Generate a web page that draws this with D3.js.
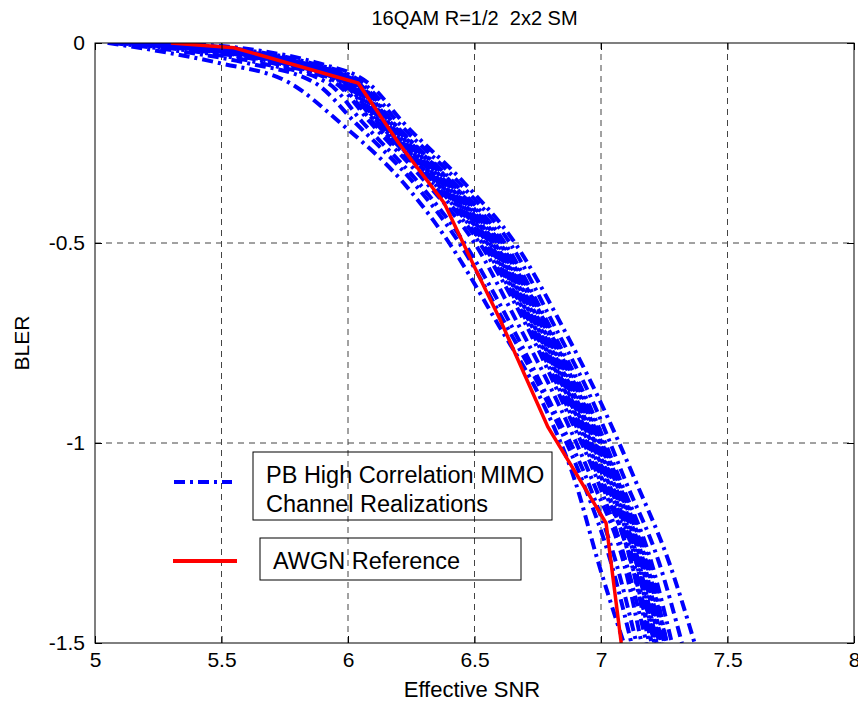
<!DOCTYPE html>
<html>
<head>
<meta charset="utf-8">
<script src="https://cdn.jsdelivr.net/npm/d3@7.9.0/dist/d3.min.js"></script>
<style>
  html, body { margin: 0; padding: 0; background: #fff; }
  svg { display: block; font-family: 'Liberation Sans', Arial, sans-serif; }
  .grid line { stroke: #444; stroke-dasharray: 6,5; stroke-width: 1; }
  .axis text { font-size: 21px; fill: #000; }
  .axis line { stroke: #000; }
</style>
</head>
<body>
<svg id="chart" width="858" height="702"></svg>
<script>
const blerLevels = [0, -0.02, -0.05, -0.1, -0.2, -0.35, -0.5, -0.7, -0.9, -1.1, -1.3, -1.5];

// effective SNR of each channel realization at those levels
const realizationSnr = [
  [5.05, 5.25, 5.49, 5.77, 5.97, 6.22, 6.40, 6.59, 6.77, 6.90, 6.99, 7.09],
  [5.07, 5.33, 5.60, 5.87, 6.03, 6.26, 6.44, 6.62, 6.79, 6.93, 7.04, 7.12],
  [5.09, 5.38, 5.65, 5.92, 6.06, 6.28, 6.46, 6.64, 6.80, 6.95, 7.06, 7.14],
  [5.12, 5.42, 5.70, 5.95, 6.09, 6.31, 6.50, 6.67, 6.83, 6.97, 7.09, 7.16],
  [5.13, 5.45, 5.72, 5.96, 6.10, 6.33, 6.52, 6.70, 6.85, 6.99, 7.10, 7.18],
  [5.15, 5.46, 5.74, 5.98, 6.12, 6.34, 6.53, 6.71, 6.86, 7.00, 7.12, 7.19],
  [5.16, 5.48, 5.74, 5.98, 6.11, 6.35, 6.54, 6.72, 6.87, 7.01, 7.13, 7.20],
  [5.17, 5.49, 5.75, 5.99, 6.12, 6.35, 6.55, 6.72, 6.88, 7.01, 7.12, 7.20],
  [5.18, 5.50, 5.76, 5.99, 6.13, 6.36, 6.55, 6.73, 6.88, 7.02, 7.14, 7.21],
  [5.19, 5.50, 5.77, 6.00, 6.13, 6.36, 6.56, 6.73, 6.89, 7.03, 7.15, 7.22],
  [5.20, 5.51, 5.77, 6.00, 6.14, 6.37, 6.56, 6.74, 6.89, 7.03, 7.14, 7.21],
  [5.21, 5.52, 5.78, 6.01, 6.14, 6.37, 6.57, 6.74, 6.90, 7.04, 7.15, 7.22],
  [5.22, 5.53, 5.79, 6.02, 6.15, 6.38, 6.58, 6.75, 6.91, 7.04, 7.16, 7.23],
  [5.22, 5.54, 5.79, 6.01, 6.15, 6.38, 6.57, 6.75, 6.90, 7.05, 7.17, 7.24],
  [5.23, 5.54, 5.80, 6.02, 6.16, 6.39, 6.58, 6.76, 6.91, 7.05, 7.16, 7.23],
  [5.24, 5.55, 5.80, 6.03, 6.16, 6.39, 6.59, 6.76, 6.92, 7.06, 7.17, 7.24],
  [5.25, 5.56, 5.81, 6.03, 6.17, 6.40, 6.60, 6.77, 6.93, 7.06, 7.18, 7.25],
  [5.25, 5.57, 5.82, 6.04, 6.17, 6.41, 6.60, 6.78, 6.93, 7.07, 7.18, 7.26],
  [5.26, 5.58, 5.82, 6.04, 6.18, 6.41, 6.61, 6.78, 6.94, 7.07, 7.19, 7.26],
  [5.27, 5.59, 5.83, 6.05, 6.18, 6.42, 6.62, 6.79, 6.95, 7.08, 7.20, 7.28],
  [5.28, 5.62, 5.85, 6.06, 6.20, 6.44, 6.64, 6.81, 6.97, 7.10, 7.23, 7.32],
  [5.30, 5.66, 5.88, 6.08, 6.22, 6.46, 6.66, 6.84, 7.00, 7.14, 7.27, 7.37]
];

// AWGN reference curve
const awgnSnr = [5.30, 5.55, 6.04, 6.20, 6.38, 6.50, 6.60, 6.79, 7.02, 7.08];
const awgnBler = [0, -0.012, -0.10, -0.25, -0.40, -0.56, -0.69, -0.96, -1.20, -1.50];

const xTicks = [5, 5.5, 6, 6.5, 7, 7.5, 8];
const yTicks = [0, -0.5, -1, -1.5];
const legendLabels = [['PB High Correlation MIMO', 'Channel Realizations'], ['AWGN Reference']];

const plotLeft = 95, plotRight = 854, plotTop = 43, plotBottom = 643;

const svg = d3.select('#chart');

const x = d3.scaleLinear().domain([5, 8]).range([plotLeft, plotRight]);
const y = d3.scaleLinear().domain([0, -1.5]).range([plotTop, plotBottom]);

svg.append('defs').append('clipPath').attr('id', 'plot-clip')
  .append('rect')
  .attr('x', plotLeft).attr('y', plotTop)
  .attr('width', plotRight - plotLeft).attr('height', plotBottom - plotTop);

// dashed grid
const grid = svg.append('g').attr('class', 'grid');
grid.selectAll('line.v')
  .data(xTicks.filter(d => d > 5 && d < 8))
  .join('line')
  .attr('class', 'v')
  .attr('x1', d => x(d)).attr('x2', d => x(d))
  .attr('y1', plotTop).attr('y2', plotBottom);
grid.selectAll('line.h')
  .data(yTicks.filter(d => d < 0 && d > -1.5))
  .join('line')
  .attr('class', 'h')
  .attr('x1', plotLeft).attr('x2', plotRight)
  .attr('y1', d => y(d)).attr('y2', d => y(d));

const plot = svg.append('g').attr('clip-path', 'url(#plot-clip)');

const blueLine = d3.line()
  .x(d => x(d[0]))
  .y(d => y(d[1]))
  .curve(d3.curveMonotoneX);

plot.selectAll('path.realization')
  .data(realizationSnr.map(row => row.map((s, i) => [s, blerLevels[i]])))
  .join('path')
  .attr('class', 'realization')
  .attr('d', blueLine)
  .attr('fill', 'none')
  .attr('stroke', '#0000ff')
  .attr('stroke-width', 4)
  .attr('stroke-dasharray', '11,5,3,5');

const redLine = d3.line()
  .x(d => x(d[0]))
  .y(d => y(d[1]));

plot.append('path')
  .datum(awgnSnr.map((s, i) => [s, awgnBler[i]]))
  .attr('d', redLine)
  .attr('fill', 'none')
  .attr('stroke', '#ff0000')
  .attr('stroke-width', 3.5);

// axes, matlab style ticks pointing inward
const fmt = d => String(d);
svg.append('g').attr('class', 'axis')
  .attr('transform', `translate(0,${plotBottom})`)
  .call(d3.axisBottom(x).tickValues(xTicks).tickFormat(fmt).tickSize(-7).tickSizeOuter(0).tickPadding(9))
  .call(g => g.select('.domain').remove());
svg.append('g').attr('class', 'axis')
  .attr('transform', `translate(0,${plotTop})`)
  .call(d3.axisTop(x).tickValues(xTicks).tickFormat('').tickSize(-7).tickSizeOuter(0))
  .call(g => g.select('.domain').remove());
svg.append('g').attr('class', 'axis')
  .attr('transform', `translate(${plotLeft},0)`)
  .call(d3.axisLeft(y).tickValues(yTicks).tickFormat(fmt).tickSize(-7).tickSizeOuter(0).tickPadding(10))
  .call(g => g.select('.domain').remove());
svg.append('g').attr('class', 'axis')
  .attr('transform', `translate(${plotRight},0)`)
  .call(d3.axisRight(y).tickValues(yTicks).tickFormat('').tickSize(-7).tickSizeOuter(0))
  .call(g => g.select('.domain').remove());

svg.append('rect')
  .attr('x', plotLeft).attr('y', plotTop)
  .attr('width', plotRight - plotLeft).attr('height', plotBottom - plotTop)
  .attr('fill', 'none').attr('stroke', '#000').attr('stroke-width', 1);

// titles
svg.append('text')
  .attr('x', (plotLeft + plotRight) / 2).attr('y', 25)
  .attr('text-anchor', 'middle')
  .attr('font-size', 20)
  .text('16QAM R=1/2\u00a0\u00a02x2 SM');

svg.append('text')
  .attr('x', 472).attr('y', 697)
  .attr('text-anchor', 'middle')
  .attr('font-size', 22)
  .text('Effective SNR');

svg.append('text')
  .attr('transform', `translate(29,${(plotTop + plotBottom) / 2}) rotate(-90)`)
  .attr('text-anchor', 'middle')
  .attr('font-size', 21)
  .text('BLER');

// legend: two separate boxes, like the original figure
const legend = svg.append('g');
const boxes = [
  { x0: 253, y0: 452, w: 299, h: 68, color: '#0000ff', dash: '11,5,3,5', lx: 174, lx2: 232, ly: 482 },
  { x0: 260, y0: 538, w: 261, h: 42, color: '#ff0000', dash: null, lx: 173, lx2: 237, ly: 561 }
];

boxes.forEach((b, i) => {
  legend.append('rect')
    .attr('x', b.x0).attr('y', b.y0)
    .attr('width', b.w).attr('height', b.h)
    .attr('fill', 'none').attr('stroke', '#000');
  legend.append('line')
    .attr('x1', b.lx).attr('x2', b.lx2)
    .attr('y1', b.ly).attr('y2', b.ly)
    .attr('stroke', b.color).attr('stroke-width', 4)
    .attr('stroke-dasharray', b.dash);
  const lines = legendLabels[i];
  legend.append('text')
    .attr('x', b.x0 + 13)
    .attr('font-size', 23.5)
    .selectAll('tspan')
    .data(lines)
    .join('tspan')
    .attr('x', b.x0 + 13)
    .attr('y', (d, j) => b.y0 + (lines.length > 1 ? 31 + j * 29 : 31))
    .text(d => d);
});
</script>
</body>
</html>
